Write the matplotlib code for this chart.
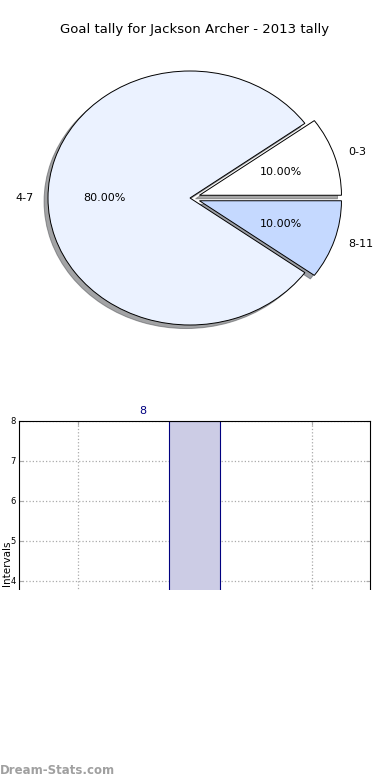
import matplotlib
matplotlib.use("Agg")
import matplotlib.pyplot as plt
from matplotlib.patches import Rectangle

title = "Goal tally for Jackson Archer - 2013 tally"
intervals = ["0-3", "4-7", "8-11"]
counts = [1, 8, 1]
pie_colors = ["#FFFFFF", "#EBF2FF", "#C5D9FF"]
explode = [0.07, 0, 0.07]

fig = plt.figure(figsize=(3.9, 7.8), dpi=100)
W, H = 390.0, 780.0

# pie (not equal aspect, like the old renderer)
ax1 = fig.add_axes([12.5 / W, 1 - 356.75 / H, 355 / W, 317.5 / H])
wedges, texts, autotexts = ax1.pie(
    counts, labels=intervals, colors=pie_colors, explode=explode,
    autopct="%.2f%%", shadow=True, startangle=0, labeldistance=1.1,
    pctdistance=0.6, wedgeprops=dict(edgecolor="black", linewidth=0.7),
    textprops=dict(fontsize=8))
ax1.set_aspect("auto")
ax1.set_xlim(-1.25, 1.25)
ax1.set_ylim(-1.25, 1.25)
ax1.axis("off")
fig.text(0.5, 1 - 30 / H, title, ha="center", va="center", fontsize=9.5)

# bar chart
ax2 = fig.add_axes([19 / W, 1 - 741 / H, 351 / W, 320 / H])
x = range(len(counts))
bars = ax2.bar(x, counts, width=0.44, color="#CCCCE5", edgecolor="#000080",
               linewidth=0.8, zorder=2)
for xi, v in zip(x, counts):
    ax2.text(xi - 0.44, v + 0.12, str(v), color="#000080", fontsize=8,
             ha="center", va="bottom")
ax2.set_xlim(-0.5, 2.5)
ax2.set_ylim(0, 8)
ax2.set_xticks(list(x))
ax2.set_xticklabels(intervals)
ax2.grid(True, color="#AAAAAA", linestyle=":", linewidth=0.9, zorder=1)
ax2.tick_params(axis="both", labelsize=6, direction="in", color="#AAAAAA",
                length=3, pad=2.5, top=True, right=True)
ax2.set_ylabel("Intervals", fontsize=7.5)
ax2.yaxis.set_label_coords(-0.021, 0.555)

# the lower half of the reference is blank
fig.patches.append(Rectangle((0, 0), 1, 1 - 590 / H, transform=fig.transFigure,
                             facecolor="white", edgecolor="none", zorder=10))
fig.text(0.0, 1 - 770 / H, "Dream-Stats.com", fontsize=8.5, color="#A0A0A0",
         fontweight="semibold", ha="left", va="center", zorder=11)

fig.savefig("out.png", dpi=100)
